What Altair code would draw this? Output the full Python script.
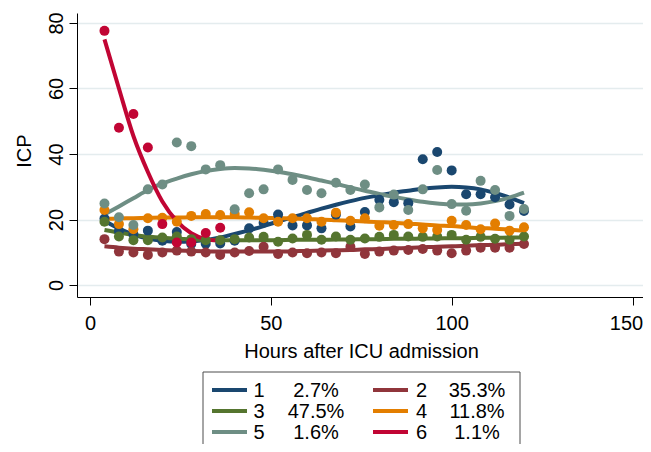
import altair as alt
import pandas as pd

FONT = "Liberation Sans"

hours = list(range(4, 121, 4))
hours_c6 = hours[:9]

classes = ["1", "2", "3", "4", "5", "6"]
shares = ["2.7%", "35.3%", "47.5%", "11.8%", "1.6%", "1.1%"]
colors = ["#1a476f", "#90353b", "#55752f", "#e37e00", "#6e8e84", "#c10534"]

# observed mean ICP per class
obs_1 = [20.3, 16.5, 15.5, 16.6, 13.5, 16.2, 12.5, 12.6, 12.7, 13.5, 17.3, 19.0, 21.5, 18.2, 18.2,
         17.3, 21.5, 17.9, 22.3, 26.0, 25.3, 25.0, 38.4, 40.6, 35.0, 27.7, 27.7, 26.8, 24.6, 22.6]
obs_2 = [14.0, 10.2, 9.9, 9.2, 9.9, 10.5, 10.2, 9.9, 9.2, 9.9, 10.4, 11.7, 9.5, 9.9, 9.7,
         9.9, 9.7, 11.7, 9.5, 10.2, 10.5, 10.7, 11.0, 10.5, 9.7, 10.5, 11.4, 11.4, 11.4, 12.5]
obs_3 = [19.3, 14.8, 13.7, 13.7, 14.5, 14.8, 14.0, 13.7, 13.7, 14.0, 14.5, 14.7, 13.2, 14.2, 15.3,
         13.8, 14.8, 13.8, 14.2, 14.7, 15.3, 14.8, 14.7, 14.8, 15.3, 13.8, 14.7, 14.1, 13.8, 14.8]
obs_4 = [22.9, 18.6, 17.0, 20.4, 20.5, 19.3, 21.1, 21.7, 21.4, 21.7, 22.2, 20.4, 19.3, 20.4, 20.4,
         19.3, 22.1, 19.6, 20.4, 18.1, 18.3, 18.6, 17.3, 16.8, 19.6, 18.3, 17.0, 18.8, 16.6, 17.6]
obs_5 = [24.9, 20.7, 18.3, 29.2, 30.7, 43.5, 42.4, 35.3, 36.6, 23.1, 28.0, 29.2, 35.3, 32.1, 29.0,
         28.0, 31.2, 29.0, 30.7, 23.7, 27.6, 22.9, 29.2, 35.1, 24.7, 22.7, 31.8, 29.0, 21.1, 23.2]
obs_6 = [77.6, 48.0, 52.2, 42.0, 18.6, 13.0, 13.0, 15.9, 17.5]

# fitted trajectories per class
fit_1 = [19.6, 17.2, 15.4, 14.2, 13.5, 13.2, 13.3, 13.7, 14.5, 15.6, 16.7, 18.0, 19.4, 20.7, 22.0,
         23.3, 24.5, 25.6, 26.6, 27.4, 28.2, 28.8, 29.4, 29.8, 30.0, 29.8, 29.2, 28.1, 26.7, 25.0]
fit_2 = [11.8, 11.4, 11.1, 10.9, 10.7, 10.5, 10.4, 10.3, 10.2, 10.2, 10.2, 10.2, 10.2, 10.3, 10.4,
         10.5, 10.6, 10.7, 10.9, 11.0, 11.2, 11.3, 11.5, 11.7, 11.8, 12.0, 12.2, 12.3, 12.5, 12.6]
fit_3 = [16.8, 16.0, 15.3, 14.8, 14.4, 14.1, 13.9, 13.8, 13.7, 13.7, 13.7, 13.7, 13.7, 13.8, 13.8,
         13.8, 13.9, 13.9, 14.0, 14.0, 14.1, 14.1, 14.2, 14.2, 14.3, 14.3, 14.4, 14.4, 14.5, 14.5]
fit_4 = [20.2, 20.3, 20.4, 20.5, 20.6, 20.6, 20.7, 20.7, 20.7, 20.7, 20.6, 20.5, 20.4, 20.3, 20.1,
         20.0, 19.8, 19.6, 19.4, 19.2, 19.0, 18.7, 18.5, 18.2, 18.0, 17.7, 17.4, 17.2, 16.9, 16.6]
fit_5 = [21.5, 24.0, 26.5, 29.0, 31.0, 32.5, 33.8, 34.8, 35.4, 35.7, 35.6, 35.2, 34.6, 33.8, 32.9,
         31.9, 30.9, 29.8, 28.8, 27.8, 26.9, 26.1, 25.4, 24.9, 24.6, 24.6, 24.9, 25.6, 26.7, 28.2]
fit_6 = [75.0, 60.0, 45.5, 34.5, 25.5, 19.5, 15.8, 14.0, 13.5]

obs = [obs_1, obs_2, obs_3, obs_4, obs_5, obs_6]
fits = [fit_1, fit_2, fit_3, fit_4, fit_5, fit_6]

rows = []
for c, o, f in zip(classes, obs, fits):
    hs = hours if len(o) == len(hours) else hours_c6
    for h, ov, fv in zip(hs, o, f):
        rows.append({"hour": h, "cls": c, "icp": ov, "fit": fv})
df = pd.DataFrame(rows)

xscale = alt.Scale(domain=[-3.595, 152.9], nice=False, zero=False)
yscale = alt.Scale(domain=[-3.66, 83.05], nice=False, zero=False)
cscale = alt.Scale(domain=classes, range=colors)

xaxis = alt.Axis(values=[0, 50, 100, 150], grid=False, tickSize=8, tickColor="black",
                 domainColor="black", labelPadding=24, labelBaseline="alphabetic",
                 labelFont=FONT, labelFontSize=20, labelColor="black", labelFlush=False,
                 labelOverlap=False,
                 labelOffset=alt.ExprRef("datum.value == 150 ? -6.5 : 0"),
                 title="Hours after ICU admission", titleFont=FONT, titleFontSize=20,
                 titleFontWeight="normal", titleColor="black", titleX=284, titleY=60.3,
                 titleBaseline="alphabetic", titleAlign="center")
yaxis = alt.Axis(values=[0, 20, 40, 60, 80], grid=True, gridColor="#e4ecee", gridWidth=1.5,
                 tickSize=8, tickColor="black", domainColor="black",
                 labelAngle=270, labelAlign="center", labelBaseline="alphabetic",
                 labelPadding=7, labelFont=FONT, labelFontSize=20, labelColor="black",
                 labelFlush=False, title="ICP", titleFont=FONT, titleFontSize=20,
                 titleFontWeight="normal", titleColor="black", titleX=-47, titleY=137.7,
                 titleAngle=270, titleBaseline="alphabetic", titleAlign="center")

lines = alt.Chart(df).mark_line(strokeWidth=4, interpolate="monotone").encode(
    x=alt.X("hour:Q", scale=xscale, axis=xaxis),
    y=alt.Y("fit:Q", scale=yscale, axis=yaxis),
    color=alt.Color("cls:N", scale=cscale, legend=None),
)
points = alt.Chart(df).mark_circle(size=100, opacity=1).encode(
    x=alt.X("hour:Q", scale=xscale, axis=xaxis),
    y=alt.Y("icp:Q", scale=yscale, axis=yaxis),
    color=alt.Color("cls:N", scale=cscale, legend=None),
)
main = alt.layer(lines, points)

# legend (layout in pixels relative to plot origin)
leg = pd.DataFrame({"cls": classes, "share": shares, "hex": colors,
                    "col": [0, 1, 0, 1, 0, 1], "row": [0, 0, 1, 1, 2, 2]})
leg["kx0"] = 135 + leg["col"] * 161
leg["kx1"] = leg["kx0"] + 35
leg["ky"] = 377.0 + leg["row"] * 21.0
leg["ty"] = leg["ky"] + 7.0
leg["nx"] = 176.5 + leg["col"] * 162.5
leg["px"] = 239 + leg["col"] * 161

box = alt.Chart(pd.DataFrame({"a": [0]})).mark_rect(
    fill="white", stroke="#4d4d4d", strokeWidth=1
).encode(x=alt.value(126), x2=alt.value(443), y=alt.value(359), y2=alt.value(450))
keys = alt.Chart(leg).mark_rule(strokeWidth=4).encode(
    x=alt.X("kx0:Q", scale=None, axis=None), x2="kx1:Q",
    y=alt.Y("ky:Q", scale=None, axis=None),
    color=alt.Color("hex:N", scale=None),
)
nums = alt.Chart(leg).mark_text(font=FONT, fontSize=20, align="left",
                                baseline="alphabetic", color="black").encode(
    x=alt.X("nx:Q", scale=None, axis=None),
    y=alt.Y("ty:Q", scale=None, axis=None),
    text="cls:N",
)
pcts = alt.Chart(leg).mark_text(font=FONT, fontSize=20, align="center",
                                baseline="alphabetic", color="black").encode(
    x=alt.X("px:Q", scale=None, axis=None),
    y=alt.Y("ty:Q", scale=None, axis=None),
    text="share:N",
)
legend = alt.layer(box, keys, nums, pcts)

chart = alt.layer(main, legend).resolve_scale(
    x="independent", y="independent", color="independent"
).properties(
    width=566, height=284,
    autosize=alt.AutoSizeParams(type="none"),
    padding={"left": 69, "top": 5, "right": 0, "bottom": 147},
    background="white",
).configure_view(strokeWidth=0)

chart.save("out.html", embed_options={"renderer": "svg", "actions": False})
